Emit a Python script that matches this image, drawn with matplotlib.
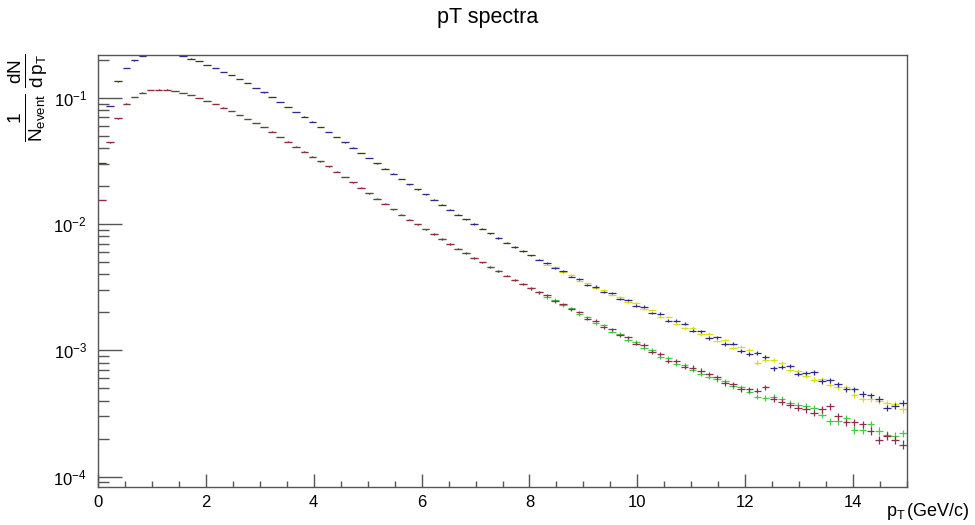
import numpy as np
import matplotlib.pyplot as plt
from matplotlib.ticker import LogLocator, MultipleLocator, NullFormatter

plt.rcParams['font.family'] = ['Liberation Sans', 'DejaVu Sans']
plt.rcParams['mathtext.fontset'] = 'custom'
plt.rcParams['mathtext.rm'] = 'Liberation Sans'
plt.rcParams['mathtext.it'] = 'Liberation Sans:italic'
plt.rcParams['mathtext.bf'] = 'Liberation Sans:bold'

# 100 bins, 0 - 15 GeV/c
bin_edges = np.linspace(0, 15, 101)

# upper pair (blue / yellow): same up to bin 54, then they split
upper_common = [0.0303, 0.0857, 0.1349, 0.1710, 0.1977, 0.2128, 0.2234, 0.2265, 0.2265, 0.2208,
                0.2128, 0.2042, 0.1950, 0.1828, 0.1710, 0.1603, 0.1507, 0.1406, 0.1303, 0.1197,
                0.1102, 0.1012, 0.0925, 0.0847, 0.0774, 0.0708, 0.0646, 0.0589, 0.0536, 0.0488,
                0.0443, 0.0403, 0.0366, 0.0333, 0.0303, 0.0275, 0.0250, 0.02275, 0.0207, 0.0188,
                0.01714, 0.01563, 0.01426, 0.01300, 0.01189, 0.01091, 0.01002, 9.20e-3, 8.45e-3, 7.76e-3,
                7.13e-3, 6.59e-3, 6.11e-3, 5.65e-3, 5.22e-3]
blue_tail = [4.90e-3, 4.48e-3, 4.25e-3, 3.84e-3, 3.66e-3, 3.31e-3, 3.20e-3, 2.91e-3, 2.83e-3, 2.56e-3,
             2.50e-3, 2.26e-3, 2.22e-3, 1.98e-3, 1.95e-3, 1.72e-3, 1.71e-3, 1.62e-3, 1.43e-3, 1.42e-3,
             1.25e-3, 1.27e-3, 1.12e-3, 1.13e-3, 9.9e-4, 9.4e-4, 9.5e-4, 8.8e-4, 7.2e-4, 7.4e-4,
             7.5e-4, 6.5e-4, 6.6e-4, 6.7e-4, 5.7e-4, 5.8e-4, 5.4e-4, 4.9e-4, 4.9e-4, 4.5e-4,
             4.4e-4, 4.1e-4, 3.5e-4, 3.65e-4, 3.8e-4]
yellow_tail = [4.78e-3, 4.58e-3, 4.15e-3, 3.94e-3, 3.56e-3, 3.41e-3, 3.10e-3, 3.01e-3, 2.73e-3, 2.66e-3,
               2.40e-3, 2.36e-3, 2.12e-3, 2.08e-3, 1.85e-3, 1.84e-3, 1.63e-3, 1.50e-3, 1.51e-3, 1.34e-3,
               1.35e-3, 1.19e-3, 1.20e-3, 1.05e-3, 1.07e-3, 1.00e-3, 8.0e-4, 8.4e-4, 8.4e-4, 7.9e-4,
               7.0e-4, 6.8e-4, 6.3e-4, 5.85e-4, 5.9e-4, 5.35e-4, 5.1e-4, 5.1e-4, 4.45e-4, 4.1e-4,
               4.1e-4, 3.95e-4, 3.8e-4, 3.75e-4, 3.4e-4]

# lower pair (red / green)
lower_common = [0.0155, 0.0443, 0.0686, 0.0900, 0.1014, 0.1099, 0.1146, 0.1161, 0.1160, 0.1132,
                0.1091, 0.1047, 0.1000, 0.0944, 0.0889, 0.0836, 0.0782, 0.0728, 0.0679, 0.0631,
                0.0586, 0.0540, 0.0491, 0.0449, 0.0410, 0.0375, 0.0342, 0.0313, 0.0286, 0.0259,
                0.02355, 0.02133, 0.01936, 0.01754, 0.01592, 0.01445, 0.01309, 0.01189, 0.01086, 0.00993,
                9.10e-3, 8.32e-3, 7.60e-3, 6.97e-3, 6.40e-3, 5.89e-3, 5.41e-3, 4.97e-3, 4.57e-3, 4.23e-3,
                3.91e-3, 3.61e-3, 3.34e-3, 3.09e-3, 2.87e-3]
red_tail = [2.72e-3, 2.44e-3, 2.33e-3, 2.11e-3, 2.01e-3, 1.78e-3, 1.72e-3, 1.52e-3, 1.47e-3, 1.31e-3,
            1.27e-3, 1.13e-3, 1.10e-3, 9.7e-4, 9.4e-4, 8.3e-4, 8.2e-4, 7.4e-4, 7.3e-4, 6.9e-4,
            6.5e-4, 6.1e-4, 5.5e-4, 5.4e-4, 4.9e-4, 4.9e-4, 4.8e-4, 5.1e-4, 4.1e-4, 3.9e-4,
            3.7e-4, 3.5e-4, 3.4e-4, 3.2e-4, 3.4e-4, 3.6e-4, 3.0e-4, 2.7e-4, 2.7e-4, 2.6e-4,
            2.3e-4, 1.96e-4, 2.09e-4, 1.96e-4, 1.79e-4]
green_tail = [2.62e-3, 2.52e-3, 2.27e-3, 2.17e-3, 1.93e-3, 1.84e-3, 1.64e-3, 1.58e-3, 1.40e-3, 1.35e-3,
              1.21e-3, 1.17e-3, 1.04e-3, 1.01e-3, 8.9e-4, 8.7e-4, 7.8e-4, 7.7e-4, 7.0e-4, 6.5e-4,
              6.2e-4, 5.9e-4, 5.7e-4, 5.2e-4, 5.1e-4, 4.7e-4, 4.3e-4, 4.2e-4, 4.3e-4, 4.1e-4,
              3.8e-4, 3.7e-4, 3.6e-4, 3.5e-4, 3.1e-4, 2.75e-4, 2.75e-4, 2.9e-4, 2.35e-4, 2.35e-4,
              2.6e-4, 2.3e-4, 2.15e-4, 2.1e-4, 2.2e-4]

spectra = {
    'yellow': upper_common + yellow_tail,
    'green': lower_common + green_tail,
    'blue': upper_common + blue_tail,
    'red': lower_common + red_tail,
}
colors = {'yellow': '#e0e000', 'green': '#40cc40', 'blue': '#2b2b90', 'red': '#922c4a'}

# N_event * bin width, for poisson errors
norm = 8.7e5

centers = 0.5 * (bin_edges[:-1] + bin_edges[1:])
half_w = 0.07

fig = plt.figure(figsize=(9.75, 5.25), dpi=100)
ax = fig.add_axes([0.1005, 0.0724, 0.8298, 0.8228])

for name, vals in spectra.items():
    y = np.array(vals)
    err = np.sqrt(y / norm)
    ax.errorbar(centers, y, xerr=half_w, yerr=err, fmt='none',
                ecolor=colors[name], elinewidth=0.9, capsize=0)

ax.set_yscale('log')
ax.set_xlim(0, 15)
ax.set_ylim(8.27e-5, 0.218)

ax.xaxis.set_major_locator(MultipleLocator(2))
ax.xaxis.set_minor_locator(MultipleLocator(0.5))
ax.yaxis.set_major_locator(LogLocator(base=10))
ax.yaxis.set_minor_locator(LogLocator(base=10, subs=np.arange(2, 10)))
ax.yaxis.set_minor_formatter(NullFormatter())

frame_c = '#555555'
for sp in ax.spines.values():
    sp.set_color(frame_c)
    sp.set_linewidth(1.0)
ax.tick_params(axis='both', which='both', direction='in', colors=frame_c,
               labelcolor='black', labelsize=12)
ax.tick_params(axis='y', which='major', length=17, width=1.0, pad=8)
ax.tick_params(axis='y', which='minor', length=8, width=1.0)
ax.tick_params(axis='x', which='major', length=9.5, width=1.0, pad=6)
ax.tick_params(axis='x', which='minor', length=4.5, width=1.0)

fig.text(0.5, 0.966, 'pT spectra', ha='center', va='center', fontsize=15.5)
fig.text(0.995, 0.025, r'$\mathrm{p_{T}\,(GeV/c)}$', ha='right', va='center', fontsize=13)
fig.text(0.029, 0.899, r'$\mathrm{\frac{1}{N_{event}}\,\frac{dN}{d\,p_{T}}}$',
         rotation=90, ha='center', va='top', fontsize=19.5)

fig.savefig('out.png', dpi=100)
